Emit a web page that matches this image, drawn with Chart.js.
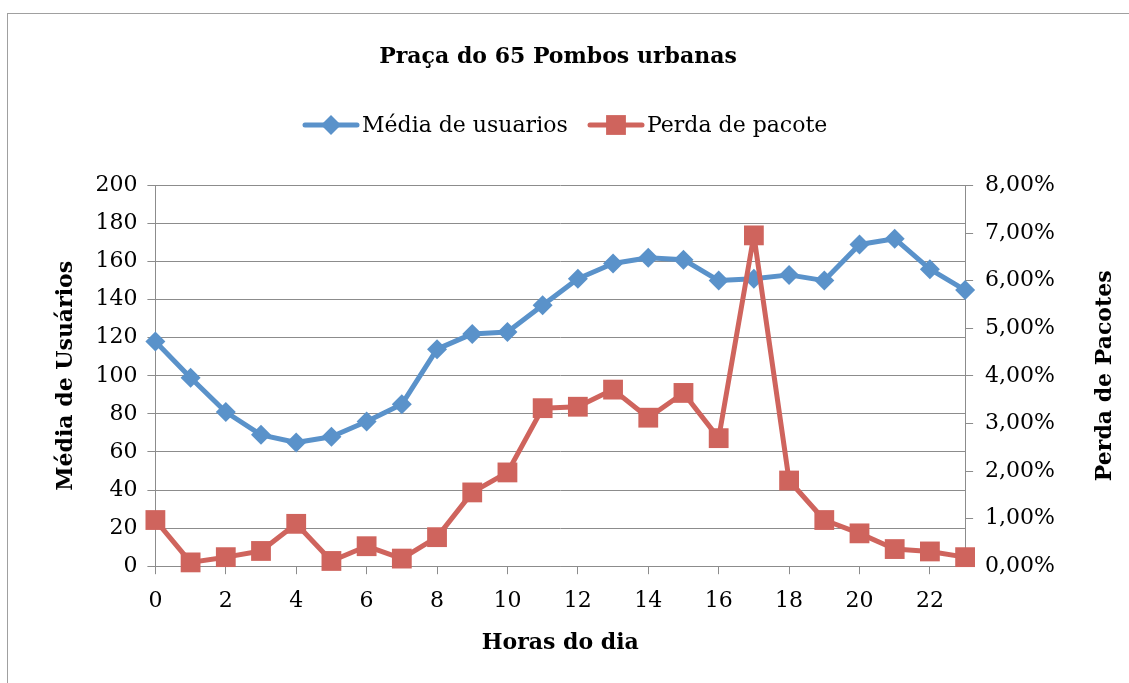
<!DOCTYPE html>
<html>
<head>
<meta charset="utf-8">
<script src="https://cdn.jsdelivr.net/npm/chart.js@4.4.1/dist/chart.umd.min.js"></script>
<style>
  html, body { margin: 0; padding: 0; background: #fff; }
  #wrap { position: relative; width: 1129px; height: 683px; overflow: hidden; }
  #frame { position: absolute; left: 7px; top: 13px; width: 1140px; height: 700px; border: 1px solid #a0a0a0; }
  #myChart { position: absolute; left: 0; top: 0; }
</style>
</head>
<body>
<div id="wrap">
  <div id="frame"></div>
  <canvas id="myChart" width="1129" height="683"></canvas>
</div>
<script>
const chartTitle = 'Praça do 65 Pombos urbanas';
const leftTitle = 'Média de Usuários';
const rightTitle = 'Perda de Pacotes';
const bottomTitle = 'Horas do dia';
const hours = ['0', '1', '2', '3', '4', '5', '6', '7', '8', '9', '10', '11',
  '12', '13', '14', '15', '16', '17', '18', '19', '20', '21', '22', '23'];
const usuarios = [118, 99, 81, 69, 65, 68, 76, 85, 114, 122, 123, 137,
  151, 159, 162, 161, 150, 151, 153, 150, 169, 172, 156, 145];
// perda de pacote em %
const perda = [0.97, 0.08, 0.19, 0.32, 0.89, 0.11, 0.42, 0.16, 0.61, 1.55, 1.97, 3.32,
  3.35, 3.71, 3.12, 3.64, 2.69, 6.95, 1.80, 0.97, 0.69, 0.36, 0.31, 0.19];

const blue = '#5A92CA';
const red = '#CF645D';
const gridGray = '#8c8c8c';
const fontFamily = '"DejaVu Serif", serif';

const ctx = document.getElementById('myChart');

// legend with line + marker, like the office chart, and the right axis title
// (chart.js would rotate it the other way)
const extras = {
  id: 'extras',
  afterDraw(chart) {
    const c = chart.ctx;
    const items = [
      { x: 305, ds: chart.data.datasets[0] },
      { x: 590, ds: chart.data.datasets[1] },
    ];
    const y = 125;
    c.save();
    c.font = '22px ' + fontFamily;
    c.textBaseline = 'middle';
    c.textAlign = 'left';
    items.forEach(item => {
      c.strokeStyle = item.ds.borderColor;
      c.lineWidth = 5;
      c.lineCap = 'round';
      c.beginPath();
      c.moveTo(item.x, y);
      c.lineTo(item.x + 52, y);
      c.stroke();
      c.fillStyle = item.ds.pointBackgroundColor;
      Chart.helpers.drawPoint(c, {
        pointStyle: item.ds.pointStyle,
        radius: item.ds.pointRadius,
        borderWidth: 0,
      }, item.x + 26, y);
      c.fillStyle = '#000';
      c.fillText(item.ds.label, item.x + 57, y + 1);
    });

    const area = chart.chartArea;
    c.translate(1105, (area.top + area.bottom) / 2);
    c.rotate(-Math.PI / 2);
    c.textAlign = 'center';
    c.font = 'bold 22px ' + fontFamily;
    c.fillText(rightTitle, 0, 0);
    c.restore();
  }
};

const data = {
  labels: hours,
  datasets: [
    {
      label: 'Média de usuarios',
      data: usuarios,
      yAxisID: 'y',
      borderColor: blue,
      backgroundColor: blue,
      pointBackgroundColor: blue,
      pointBorderWidth: 0,
      borderWidth: 5,
      borderJoinStyle: 'round',
      pointStyle: 'rectRot',
      pointRadius: 10,
      clip: false,
      order: 1,
    },
    {
      label: 'Perda de pacote',
      data: perda,
      yAxisID: 'y1',
      borderColor: red,
      backgroundColor: red,
      pointBackgroundColor: red,
      pointBorderWidth: 0,
      borderWidth: 5,
      borderJoinStyle: 'round',
      pointStyle: 'rect',
      pointRadius: 14,
      clip: false,
      order: 0,
    },
  ],
};

const options = {
  responsive: false,
  animation: false,
  events: [],
  layout: {
    padding: { left: 49, right: 62, top: 0, bottom: 27 },
  },
  plugins: {
    legend: { display: false },
    tooltip: { enabled: false },
    title: {
      display: true,
      text: chartTitle,
      color: '#000',
      font: { family: fontFamily, size: 22, weight: 'bold' },
      padding: { top: 44, bottom: 115 },
    },
  },
  scales: {
    x: {
      type: 'category',
      offset: false,
      grid: {
        drawOnChartArea: false,
        tickLength: 8,
        color: gridGray,
        tickColor: c => (c.index % 2 === 0 ? gridGray : 'rgba(0,0,0,0)'),
      },
      border: { color: gridGray, width: 1 },
      ticks: {
        autoSkip: false,
        maxRotation: 0,
        color: '#000',
        padding: 14,
        font: { family: fontFamily, size: 22 },
        callback: (v, i) => (i % 2 === 0 ? hours[i] : ''),
      },
      title: {
        display: true,
        text: bottomTitle,
        color: '#000',
        font: { family: fontFamily, size: 22, weight: 'bold' },
        padding: { top: 1, bottom: 0 },
      },
    },
    y: {
      position: 'left',
      min: 0,
      max: 200,
      grid: { color: gridGray, lineWidth: 1, tickLength: 8 },
      border: { color: gridGray, width: 1 },
      ticks: {
        stepSize: 20,
        color: '#000',
        padding: 10,
        font: { family: fontFamily, size: 22 },
      },
      title: {
        display: true,
        text: leftTitle,
        color: '#000',
        font: { family: fontFamily, size: 22, weight: 'bold' },
        padding: { top: 4, bottom: 6 },
      },
    },
    y1: {
      position: 'right',
      min: 0,
      max: 8,
      grid: { drawOnChartArea: false, color: gridGray, tickLength: 8 },
      border: { color: gridGray, width: 1 },
      ticks: {
        stepSize: 1,
        color: '#000',
        padding: 12,
        font: { family: fontFamily, size: 22 },
        callback: v => v.toFixed(2).replace('.', ',') + '%',
      },
    },
  },
};

const chart = new Chart(ctx, {
  type: 'line',
  data,
  options,
  plugins: [extras],
});
</script>
</body>
</html>
